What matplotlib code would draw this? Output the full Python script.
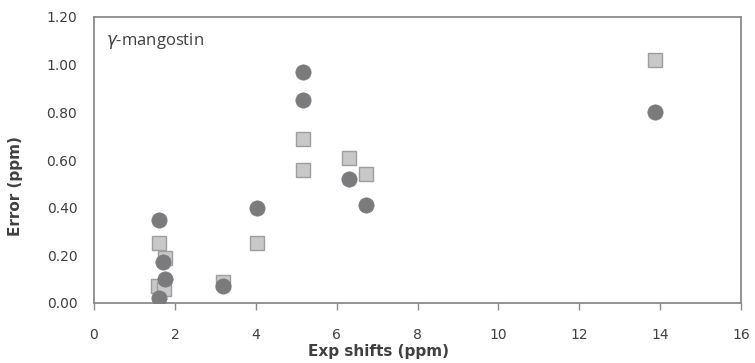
import matplotlib.pyplot as plt

# gamma-mangostin: error of calculated vs experimental shifts
sq_x = [1.61, 1.76, 1.59, 1.73, 4.02, 3.20, 5.16, 5.16, 6.31, 6.73, 13.87]
sq_y = [0.25, 0.19, 0.07, 0.06, 0.25, 0.09, 0.69, 0.56, 0.61, 0.54, 1.02]

ci_x = [1.61, 1.70, 1.76, 1.61, 4.02, 3.20, 5.16, 5.16, 6.31, 6.73, 13.87]
ci_y = [0.35, 0.17, 0.10, 0.02, 0.40, 0.07, 0.97, 0.85, 0.52, 0.41, 0.80]

xticks = [0, 2, 4, 6, 8, 10, 12, 14, 16]
yticks = [0.0, 0.2, 0.4, 0.6, 0.8, 1.0, 1.2]

fig = plt.figure(figsize=(7.55, 3.63), dpi=100)
ax = fig.add_axes([94 / 755, 1 - 303 / 363, (741 - 94) / 755, (303 - 17) / 363])

ax.plot(sq_x, sq_y, 's', ms=10.5, mfc='#c8c8c8', mec='#9e9e9e', mew=1.0, zorder=2)
ax.plot(ci_x, ci_y, 'o', ms=11, mfc='#7b7b7d', mec='#7b7b7d', mew=0.5, zorder=3)

ax.set_xlim(0, 16)
ax.set_ylim(0, 1.2)
ax.set_xticks(xticks)
ax.set_yticks(yticks)
ax.set_yticklabels(['%.2f' % v for v in yticks])

for s in ax.spines.values():
    s.set_color('#8a8a8a')
    s.set_linewidth(1.3)

ax.tick_params(axis='x', direction='out', length=5, width=1, color='#8a8a8a',
               pad=13, labelsize=10, labelcolor='#404040')
ax.tick_params(axis='y', length=0, pad=12, labelsize=10, labelcolor='#404040')

ax.set_xlabel('Exp shifts (ppm)', fontsize=11, fontweight='bold', color='#404040')
ax.set_ylabel('Error (ppm)', fontsize=11, fontweight='bold', color='#404040')
ax.xaxis.set_label_coords(0.439, -0.145)
ax.yaxis.set_label_coords(-0.11, 0.409)

ax.text(0.018, 0.915, r'$\gamma$-mangostin', transform=ax.transAxes,
        fontsize=12, family='Open Sans', color='#404040', va='center')

fig.savefig('out.png', dpi=100)
